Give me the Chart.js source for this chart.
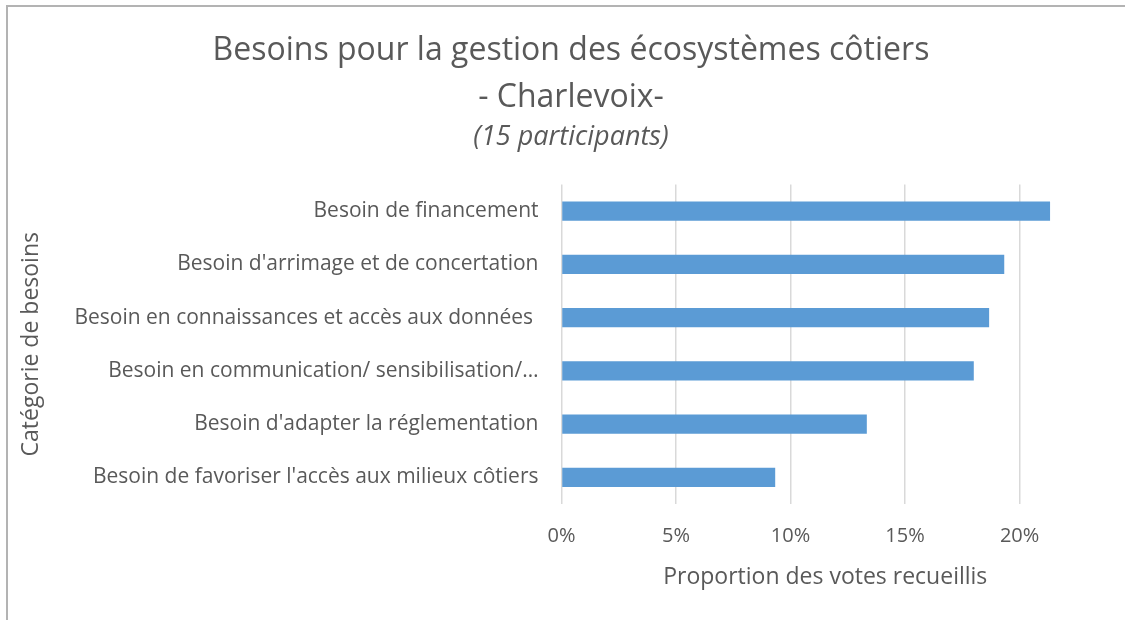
<!DOCTYPE html>
<html>
<head>
<meta charset="utf-8">
<script src="https://cdn.jsdelivr.net/npm/chart.js@4"></script>
<style>
  html, body { margin: 0; padding: 0; background: #ffffff; }
  #wrap { position: relative; width: 1125px; height: 620px; overflow: hidden; }
  #frame { position: absolute; left: 6px; top: 5px; width: 1200px; height: 700px;
           border-left: 2px solid #b3b3b3; border-top: 2px solid #b3b3b3; box-sizing: border-box; }
  canvas { position: absolute; left: 0; top: 0; }
</style>
</head>
<body>
<div id="wrap">
  <div id="frame"></div>
  <canvas id="c" width="1125" height="620"></canvas>
</div>
<script>
const categories = [
  "Besoin de financement",
  "Besoin d'arrimage et de concertation",
  "Besoin en connaissances et accès aux données ",
  "Besoin en communication/ sensibilisation/…",
  "Besoin d'adapter la réglementation",
  "Besoin de favoriser l'accès aux milieux côtiers"
];
const proportions = [0.2133, 0.1933, 0.1867, 0.1800, 0.1333, 0.0933];
const xTickValues = [0, 0.05, 0.10, 0.15, 0.20];
const titleLines = ["Besoins pour la gestion des écosystèmes côtiers", "- Charlevoix-"];
const subtitleText = "(15 participants)";
const xAxisTitle = "Proportion des votes recueillis";
const yAxisTitle = "Catégorie de besoins";

const FONT = "'Open Sans', 'Liberation Sans', sans-serif";
const TXT = "#595959";
const PLOT_LEFT = 561.5;
const PLOT_BOTTOM = 504;
const PAD = {left: 53, right: 36, top: 27, bottom: 20};

new Chart(document.getElementById('c'), {
  type: 'bar',
  data: {
    labels: categories,
    datasets: [{
      data: proportions,
      backgroundColor: '#5B9BD5',
      borderWidth: 0,
      barPercentage: 1,
      categoryPercentage: 0.36
    }]
  },
  options: {
    indexAxis: 'y',
    responsive: false,
    animation: false,
    layout: { padding: PAD },
    plugins: {
      legend: { display: false },
      tooltip: { enabled: false },
      title: {
        display: true,
        text: titleLines,
        color: TXT,
        font: { family: FONT, size: 32, weight: 'normal', lineHeight: 1.47 },
        padding: { top: 0, bottom: 0 }
      },
      subtitle: {
        display: true,
        text: subtitleText,
        color: TXT,
        font: { family: FONT, size: 27, style: 'italic', weight: 'normal', lineHeight: 1.2 },
        padding: { top: 0, bottom: 31 }
      }
    },
    scales: {
      x: {
        type: 'linear',
        min: 0,
        max: 0.2303,
        afterBuildTicks: (scale) => { scale.ticks = xTickValues.map(v => ({ value: v })); },
        afterFit: (scale) => { scale.height = 620 - PAD.bottom - PLOT_BOTTOM; },
        grid: { color: '#D9D9D9', lineWidth: 1.5, drawTicks: false },
        border: { display: false },
        ticks: {
          color: TXT,
          padding: 20,
          font: { family: FONT, size: 20 },
          callback: (v) => Math.round(v * 100) + '%'
        },
        title: {
          display: true,
          text: xAxisTitle,
          color: TXT,
          font: { family: FONT, size: 23 },
          padding: { top: 0, bottom: 9 }
        }
      },
      y: {
        afterFit: (scale) => { scale.width = PLOT_LEFT - PAD.left; },
        grid: { display: false, drawTicks: false },
        border: { display: false },
        ticks: {
          color: TXT,
          padding: 23,
          autoSkip: false,
          font: { family: FONT, size: 21 }
        },
        title: {
          display: true,
          text: yAxisTitle,
          color: TXT,
          font: { family: FONT, size: 23 },
          padding: { top: -35, bottom: 0 }
        }
      }
    }
  }
});
</script>
</body>
</html>
